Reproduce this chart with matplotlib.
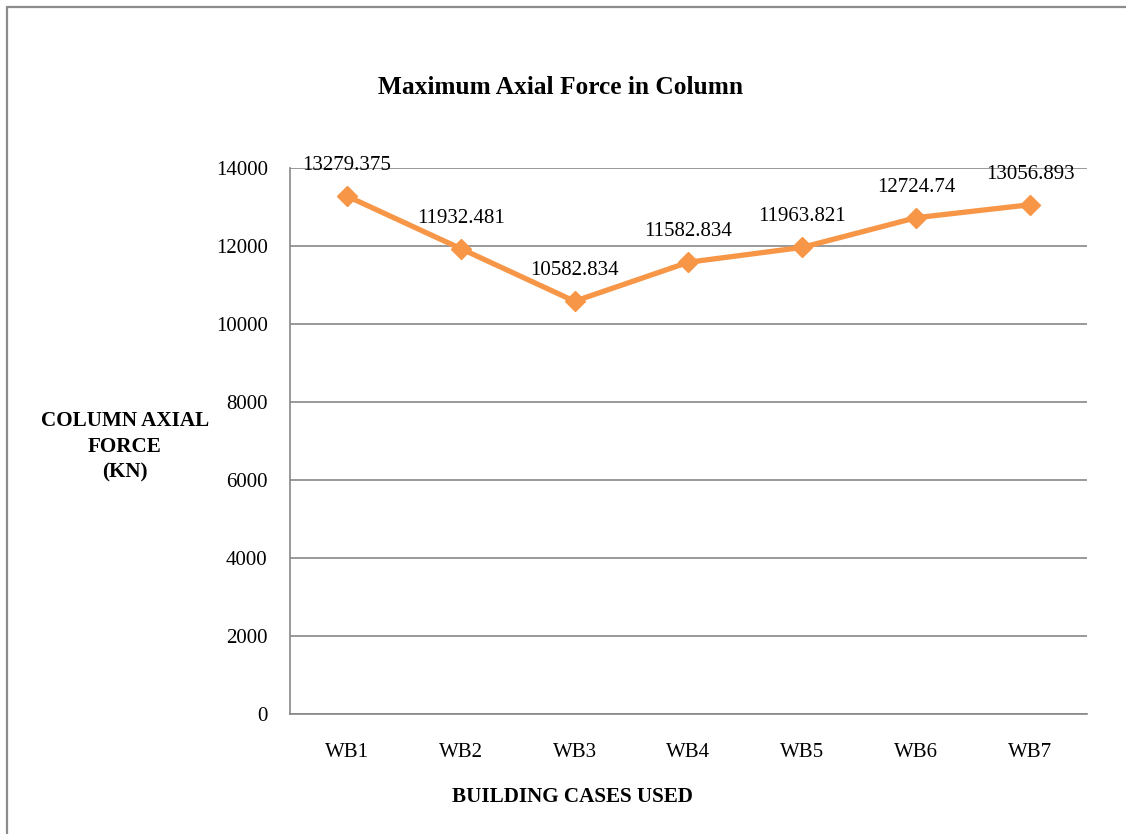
import matplotlib
matplotlib.use("Agg")
import matplotlib.pyplot as plt
from matplotlib.patches import Rectangle

cases = ["WB1", "WB2", "WB3", "WB4", "WB5", "WB6", "WB7"]
axial_force = [13279.375, 11932.481, 10582.834, 11582.834, 11963.821, 12724.74, 13056.893]
force_labels = ["13279.375", "11932.481", "10582.834", "11582.834", "11963.821", "12724.74", "13056.893"]
y_ticks = [0, 2000, 4000, 6000, 8000, 10000, 12000, 14000]

plt.rcParams['font.family'] = ['Liberation Serif', 'DejaVu Serif']

fig = plt.figure(figsize=(11.26, 8.34), dpi=100)
ax = fig.add_axes([0.2575, 0.1439, 0.7078, 0.6547])

# outer chart border (runs off right and bottom edges)
fig.patches.append(Rectangle((7 / 1126, -0.1), 2.0, (834 - 7) / 834 + 0.1,
                             transform=fig.transFigure, fill=False,
                             edgecolor="#8c8c8c", linewidth=1.6, clip_on=False))

x = list(range(len(cases)))
ax.plot(x, axial_force, color="#F79646", linewidth=3.8, marker="D", markersize=10,
        markerfacecolor="#F79646", markeredgecolor="#F79646", zorder=3)

for xi, yi, lab in zip(x, axial_force, force_labels):
    ax.annotate(lab, (xi, yi), xytext=(0, 22), textcoords="offset points",
                ha="center", va="center", fontsize=15)

ax.set_xlim(-0.5, 6.5)
ax.set_ylim(0, 14000)
ax.set_yticks(y_ticks)
ax.set_yticklabels([str(v) for v in y_ticks])
ax.set_xticks(x)
ax.set_xticklabels(cases)
ax.tick_params(axis="both", length=0, labelsize=15)
ax.tick_params(axis="y", pad=16)
ax.tick_params(axis="x", pad=21)
ax.yaxis.grid(True, color="#878787", linewidth=1.2)
ax.set_axisbelow(True)
for s in ["top", "right"]:
    ax.spines[s].set_visible(False)
for s in ["left", "bottom"]:
    ax.spines[s].set_color("#878787")
    ax.spines[s].set_linewidth(1.2)

fig.text(560 / 1126, 1 - 87 / 834, "Maximum Axial Force in Column", ha="center", va="center",
         fontsize=18.3, fontweight="bold")
fig.text(125 / 1126, 1 - 447 / 834, "COLUMN AXIAL\nFORCE\n(KN)", ha="center", va="center",
         fontsize=15.2, fontweight="bold", linespacing=1.38)
fig.text(572 / 1126, 1 - 797 / 834, "BUILDING CASES USED", ha="center", va="center",
         fontsize=15.2, fontweight="bold")

fig.savefig("out.png", dpi=100)
